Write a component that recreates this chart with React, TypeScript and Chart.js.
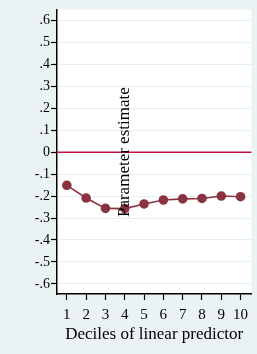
import React, { useEffect, useRef } from "react";
import { Chart, registerables } from "chart.js";

Chart.register(...registerables);

const deciles = [1, 2, 3, 4, 5, 6, 7, 8, 9, 10];
const estimates = [-0.151, -0.209, -0.256, -0.257, -0.236, -0.218, -0.213, -0.211, -0.2, -0.203];
const yTickValues = [-0.6, -0.5, -0.4, -0.3, -0.2, -0.1, 0, 0.1, 0.2, 0.3, 0.4, 0.5, 0.6];
const xTickValues = [1, 2, 3, 4, 5, 6, 7, 8, 9, 10];
const xAxisTitle = "Deciles of linear predictor";
const yAxisTitle = "Parameter estimate";

const SERIF = '"Liberation Serif", "Times New Roman", serif';
const BG = "#eaf2f3";

function fmt(v: number): string {
  const r = Math.round(v * 10) / 10;
  if (r === 0) return "0";
  const s = Math.abs(r).toFixed(1).replace(/^0/, "");
  return (r < 0 ? "-" : "") + s;
}

export default function App() {
  const ref = useRef<HTMLCanvasElement | null>(null);

  useEffect(() => {
    document.body.style.margin = "0";
    document.body.style.background = BG;
    const canvas = ref.current;
    if (!canvas) return;

    const areaBg = {
      id: "areaBg",
      beforeDraw(chart: any) {
        const { ctx, chartArea } = chart;
        ctx.save();
        ctx.fillStyle = "#ffffff";
        ctx.fillRect(chartArea.left, chartArea.top, chartArea.right - chartArea.left, chartArea.bottom - chartArea.top);
        ctx.restore();
      },
    };

    const zeroLine = {
      id: "zeroLine",
      beforeDatasetsDraw(chart: any) {
        const { ctx, chartArea, scales } = chart;
        const y = scales.y.getPixelForValue(0);
        ctx.save();
        ctx.strokeStyle = "#c8103c";
        ctx.lineWidth = 1.5;
        ctx.beginPath();
        ctx.moveTo(chartArea.left, y);
        ctx.lineTo(chartArea.right, y);
        ctx.stroke();
        ctx.restore();
      },
    };

    const yTitle = {
      id: "yTitle",
      afterDraw(chart: any) {
        const { ctx, scales } = chart;
        const x = scales.x.getPixelForValue(4.2);
        const y = scales.y.getPixelForValue(0);
        ctx.save();
        ctx.translate(x, y);
        ctx.rotate(-Math.PI / 2);
        ctx.font = `17px ${SERIF}`;
        ctx.fillStyle = "#000000";
        ctx.textAlign = "center";
        ctx.textBaseline = "alphabetic";
        ctx.fillText(yAxisTitle, 0, 0);
        ctx.restore();
      },
    };

    const chart = new Chart(canvas, {
      type: "line",
      data: {
        datasets: [
          {
            data: deciles.map((d, i) => ({ x: d, y: estimates[i] })),
            borderColor: "#8b3340",
            backgroundColor: "#8b3340",
            pointBackgroundColor: "#8b3340",
            pointBorderColor: "#8b3340",
            pointRadius: 4,
            borderWidth: 1.6,
            tension: 0,
          },
        ],
      },
      options: {
        responsive: false,
        animation: false,
        layout: { padding: { top: 5, right: 3, left: 0, bottom: 0 } },
        plugins: { legend: { display: false }, tooltip: { enabled: false }, title: { display: false } },
        scales: {
          x: {
            type: "linear",
            min: 0.49,
            max: 10.56,
            afterFit(scale: any) {
              scale.height = 60;
            },
            afterBuildTicks(scale: any) {
              scale.ticks = xTickValues.map((v) => ({ value: v }));
            },
            grid: { drawOnChartArea: false, tickLength: 6, tickColor: "#000000", tickWidth: 1.2 },
            border: { display: true, color: "#000000", width: 1.5 },
            ticks: {
              color: "#000000",
              font: { family: SERIF, size: 15 },
              padding: 6,
              maxRotation: 0,
              autoSkip: false,
              callback: (v: any) => String(v),
            },
            title: {
              display: true,
              text: xAxisTitle,
              color: "#000000",
              font: { family: SERIF, size: 17 },
              padding: { top: 0, bottom: 9 },
            },
          },
          y: {
            type: "linear",
            min: -0.646,
            max: 0.65,
            afterFit(scale: any) {
              scale.width = 57;
            },
            afterBuildTicks(scale: any) {
              scale.ticks = yTickValues.map((v) => ({ value: v }));
            },
            grid: { color: "#e6eef0", lineWidth: 1, tickLength: 6, tickColor: "#000000", tickWidth: 1.2 },
            border: { display: true, color: "#000000", width: 1.5 },
            ticks: {
              color: "#000000",
              font: { family: SERIF, size: 14 },
              padding: 1,
              autoSkip: false,
              callback: (v: any) => fmt(Number(v)),
            },
          },
        },
      },
      plugins: [areaBg, zeroLine, yTitle],
    });

    return () => chart.destroy();
  }, []);

  return (
    <div style={{ width: 257, height: 354, background: BG }}>
      <canvas ref={ref} width={257} height={354} style={{ display: "block", background: BG }} />
    </div>
  );
}
